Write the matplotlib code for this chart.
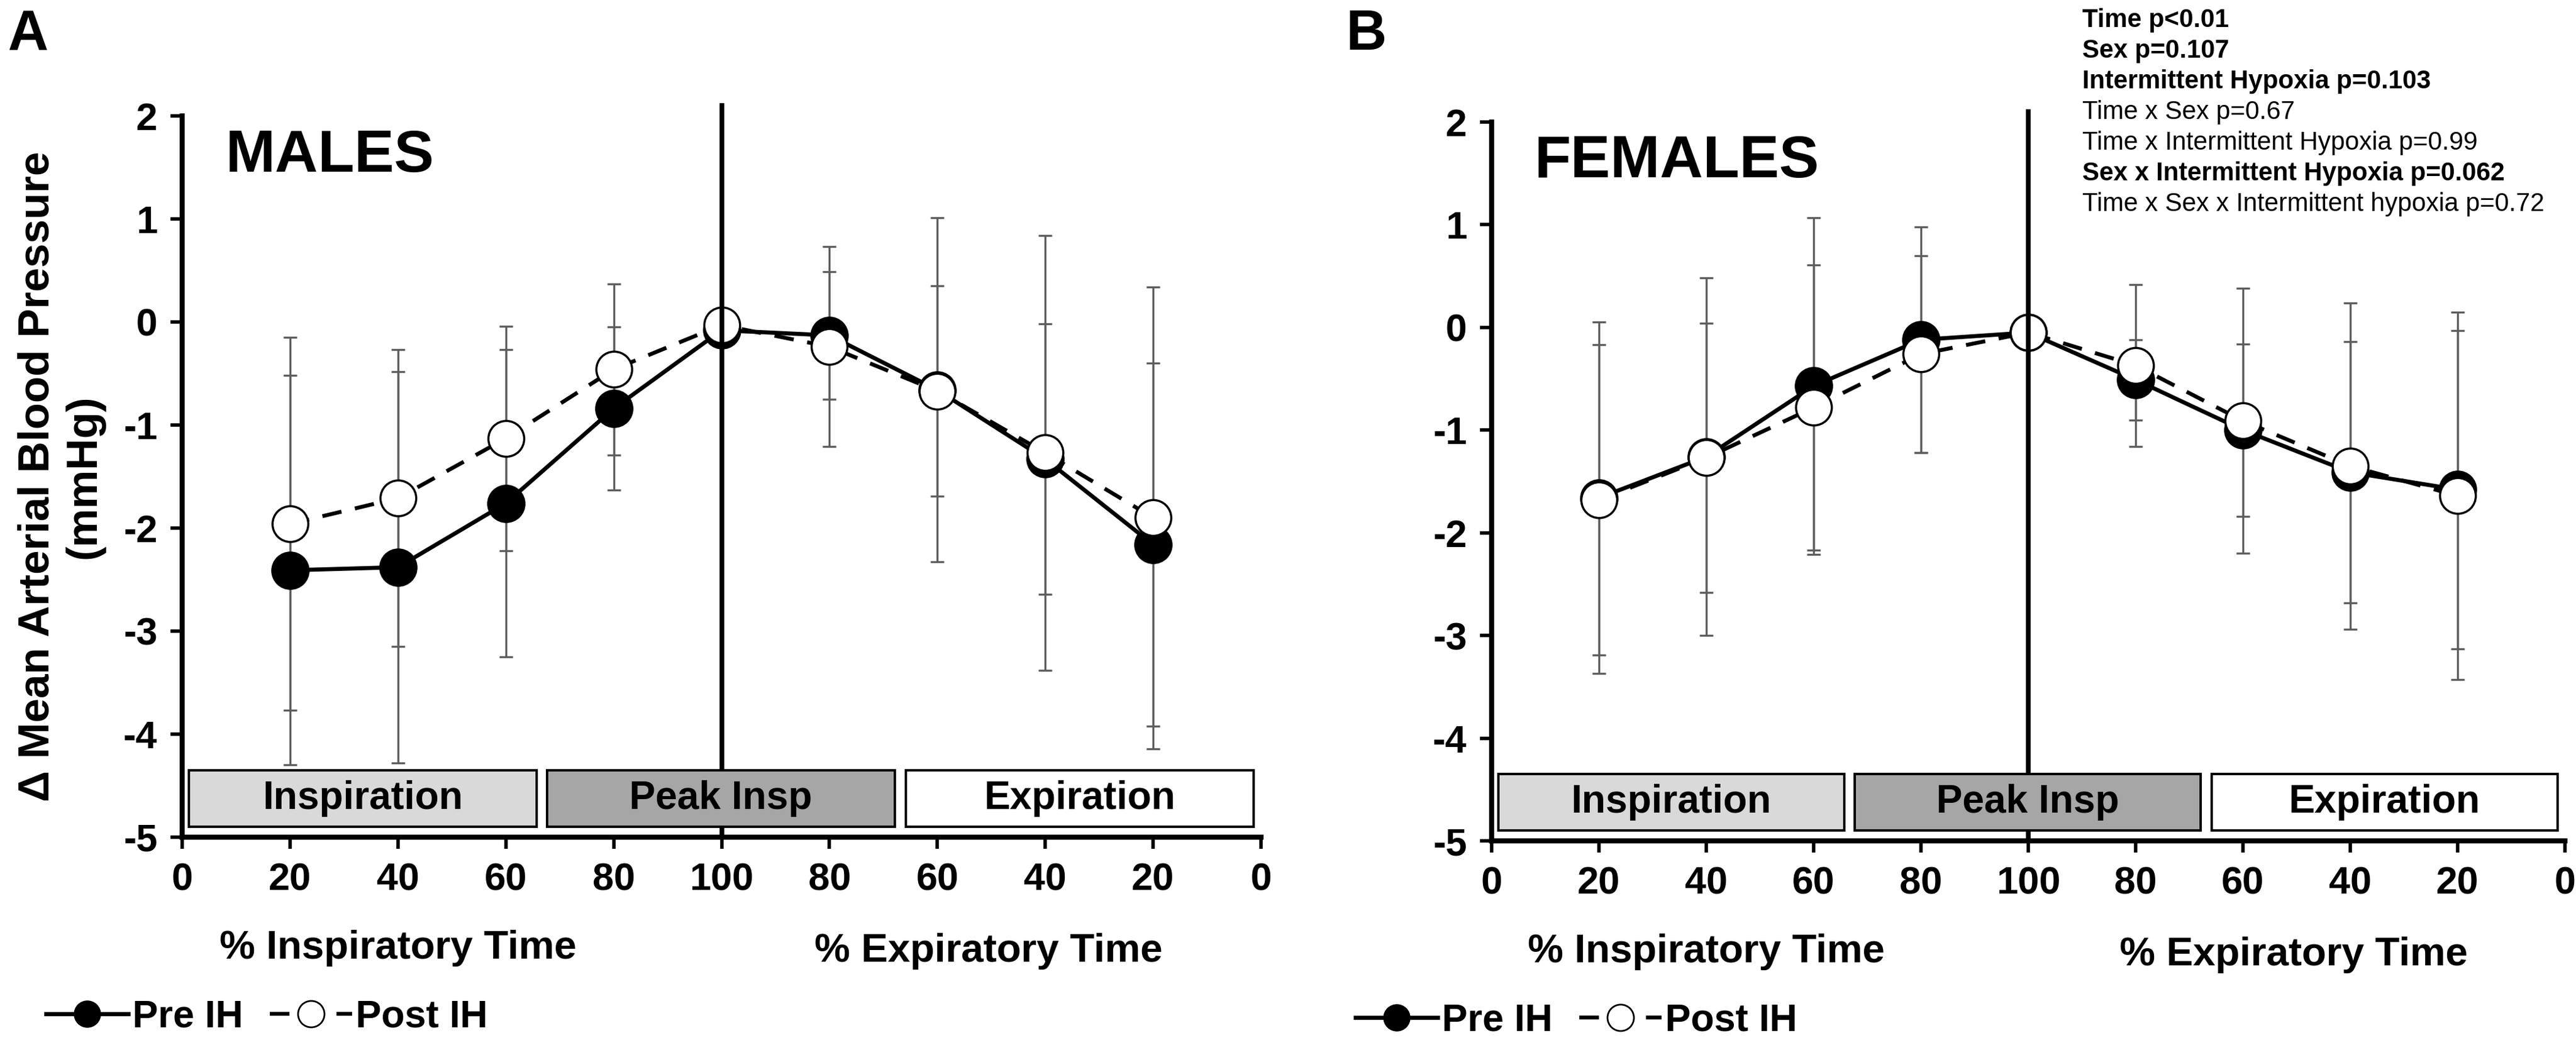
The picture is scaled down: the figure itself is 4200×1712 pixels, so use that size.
import numpy as np
import matplotlib.pyplot as plt
from matplotlib.lines import Line2D
from matplotlib.patches import Rectangle

plt.rcParams['font.family'] = ['Liberation Sans', 'DejaVu Sans']
plt.rcParams['font.weight'] = 'bold'
plt.rcParams['axes.unicode_minus'] = False

# x positions: 20..100 % inspiratory time, then 80..20 % expiratory time
x_pos = [20, 40, 60, 80, 100, 120, 140, 160, 180]
x_ticks = [0, 20, 40, 60, 80, 100, 120, 140, 160, 180, 200]
x_tick_labels = ['0', '20', '40', '60', '80', '100', '80', '60', '40', '20', '0']
y_ticks = [-5, -4, -3, -2, -1, 0, 1, 2]

males_pre = [-2.41, -2.38, -1.76, -0.84, -0.08, -0.13, -0.66, -1.33, -2.16]
males_pre_err = [1.89, 1.90, 1.49, 0.79, 0.0, 0.62, 1.67, 1.31, 1.76]
males_post = [-1.96, -1.71, -1.13, -0.46, -0.03, -0.24, -0.67, -1.27, -1.90]
males_post_err = [1.81, 1.44, 1.09, 0.83, 0.0, 0.97, 1.02, 2.11, 2.24]

females_pre = [-1.66, -1.26, -0.57, -0.12, -0.05, -0.51, -1.00, -1.41, -1.58]
females_pre_err = [1.71, 1.74, 1.64, 1.10, 0.0, 0.39, 0.84, 1.27, 1.55]
females_post = [-1.68, -1.27, -0.78, -0.26, -0.05, -0.37, -0.91, -1.35, -1.64]
females_post_err = [1.51, 1.31, 1.39, 0.96, 0.0, 0.79, 1.29, 1.59, 1.79]

phase_labels = ['Inspiration', 'Peak Insp', 'Expiration']
phase_start = [1.3, 67.6, 134.2]
phase_end = [65.7, 132.1, 198.6]
phase_colors = ['#d9d9d9', '#a6a6a6', '#ffffff']

stats_lines = ['Time p<0.01', 'Sex p=0.107', 'Intermittent Hypoxia p=0.103',
               'Time x Sex p=0.67', 'Time x Intermittent Hypoxia p=0.99',
               'Sex x Intermittent Hypoxia p=0.062',
               'Time x Sex x Intermittent hypoxia p=0.72']
stats_bold = [True, True, True, False, False, True, False]

W, H = 4200, 1712
fig = plt.figure(figsize=(W / 100, H / 100), dpi=100)
ax_a = fig.add_axes([297 / W, (H - 1365) / H, (2056 - 297) / W, (1365 - 189) / H])
ax_b = fig.add_axes([2432 / W, (H - 1371) / H, (4182 - 2432) / W, (1371 - 199) / H])


def draw_panel(ax, pre, pre_err, post, post_err, title):
    ax.errorbar(x_pos, pre, yerr=pre_err, fmt='none', ecolor='#5e5e5e',
                elinewidth=2.4, capsize=8, capthick=2.4, zorder=2)
    ax.errorbar(x_pos, post, yerr=post_err, fmt='none', ecolor='#5e5e5e',
                elinewidth=2.4, capsize=8, capthick=2.4, zorder=2)
    ax.plot(x_pos, pre, color='k', lw=4.8, marker='o', ms=44, mfc='k',
            mec='k', zorder=3)
    ax.plot(x_pos, post, color='k', lw=4.6, ls=(0, (5, 3.5)), marker='o',
            ms=42, mfc='white', mec='k', mew=2.5, zorder=4)
    ax.plot([100, 100], [-5, 2.1], color='k', lw=5.5, zorder=5, clip_on=False)

    for lab, x0, x1, c in zip(phase_labels, phase_start, phase_end, phase_colors):
        ax.add_patch(Rectangle((x0, -4.90), x1 - x0, 0.55, fc=c, ec='k',
                               lw=2.8, zorder=6))
        ax.text((x0 + x1) / 2, -4.625, lab, ha='center', va='center',
                fontsize=46, zorder=7)

    ax.text(8, 1.61, title, fontsize=70, va='center')
    ax.text(40, -6.08, '% Inspiratory Time', ha='center', va='center',
            fontsize=47, clip_on=False)
    ax.text(149.5, -6.11, '% Expiratory Time', ha='center', va='center',
            fontsize=47, clip_on=False)

    ax.set_xlim(0, 200)
    ax.set_ylim(-5, 2)
    ax.set_xticks(x_ticks)
    ax.set_xticklabels(x_tick_labels)
    ax.set_yticks(y_ticks)
    ax.set_yticklabels([str(v) for v in y_ticks])
    ax.tick_params(direction='out', length=14, width=4, labelsize=45, pad=15)
    for s in ['top', 'right']:
        ax.spines[s].set_visible(False)
    for s in ['left', 'bottom']:
        ax.spines[s].set_linewidth(6)

    handles = [Line2D([], [], color='k', lw=4.8, marker='o', ms=31, mfc='k', mec='k'),
               Line2D([], [], color='k', lw=4.6, ls=(0, (5, 3.5)), marker='o',
                      ms=31, mfc='white', mec='k', mew=2)]
    return handles


h = draw_panel(ax_a, males_pre, males_pre_err, males_post, males_post_err, 'MALES')
ax_a.set_ylabel('\u0394 Mean Arterial Blood Pressure\n(mmHg)', fontsize=51,
                fontweight='bold')
ax_a.yaxis.set_label_coords(-0.072, 0.5)
ax_a.legend(h, ['Pre IH', 'Post IH'], loc='center left',
            bbox_to_anchor=(75 / W, 54 / H), bbox_transform=fig.transFigure,
            ncol=2, frameon=False, handlelength=2.15, handletextpad=0.1,
            columnspacing=0.7, borderpad=0, borderaxespad=0, fontsize=45)

h = draw_panel(ax_b, females_pre, females_pre_err, females_post, females_post_err, 'FEMALES')
ax_b.legend(h, ['Pre IH', 'Post IH'], loc='center left',
            bbox_to_anchor=(2210 / W, 48 / H), bbox_transform=fig.transFigure,
            ncol=2, frameon=False, handlelength=2.15, handletextpad=0.1,
            columnspacing=0.7, borderpad=0, borderaxespad=0, fontsize=45)

fig.text(13 / W, 1 - 14 / H, 'A', fontsize=66, va='top')
fig.text(2195 / W, 1 - 14 / H, 'B', fontsize=66, va='top')

for i, (line, b) in enumerate(zip(stats_lines, stats_bold)):
    fig.text(3395 / W, 1 - (33 + 50 * i) / H, line, fontsize=30, va='center',
             fontweight='bold' if b else 'normal')

fig.savefig('out.png', dpi=100)
